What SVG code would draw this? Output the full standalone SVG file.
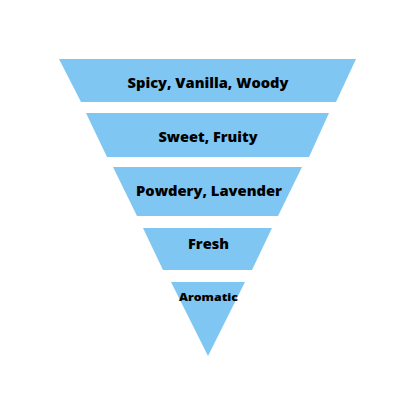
<svg xmlns="http://www.w3.org/2000/svg" width="416" height="416" viewBox="0 0 416 416">
<style>
.tier{fill:#7FC7F2;}
.lbl{font-family:"Open Sans","Liberation Sans",sans-serif;font-weight:800;fill:#000;text-anchor:middle;}
</style>
<rect width="416" height="416" fill="#fff"/>
<g id="tier1"><polygon class="tier" points="59,59 356,59 336,102 81,102"/><text class="lbl" x="208" y="88.3" font-size="14.5" textLength="161" lengthAdjust="spacingAndGlyphs">Spicy, Vanilla, Woody</text></g>
<g id="tier2"><polygon class="tier" points="86,113 329,113 309,157 107,157"/><text class="lbl" x="208" y="142" font-size="14.5" textLength="99" lengthAdjust="spacingAndGlyphs">Sweet, Fruity</text></g>
<g id="tier3"><polygon class="tier" points="113,167 302,167 278,216 137,216"/><text class="lbl" x="209" y="196" font-size="14.5" textLength="146" lengthAdjust="spacingAndGlyphs">Powdery, Lavender</text></g>
<g id="tier4"><polygon class="tier" points="143,228 272,228 252,270 163,270"/><text class="lbl" x="208.5" y="249" font-size="14.5" textLength="41" lengthAdjust="spacingAndGlyphs">Fresh</text></g>
<g id="tier5"><polygon class="tier" points="171,282 245,282 208,356"/><text class="lbl" x="208.5" y="301" font-size="11" textLength="59" lengthAdjust="spacingAndGlyphs">Aromatic</text></g>
<g id="connectors"/>
</svg>
